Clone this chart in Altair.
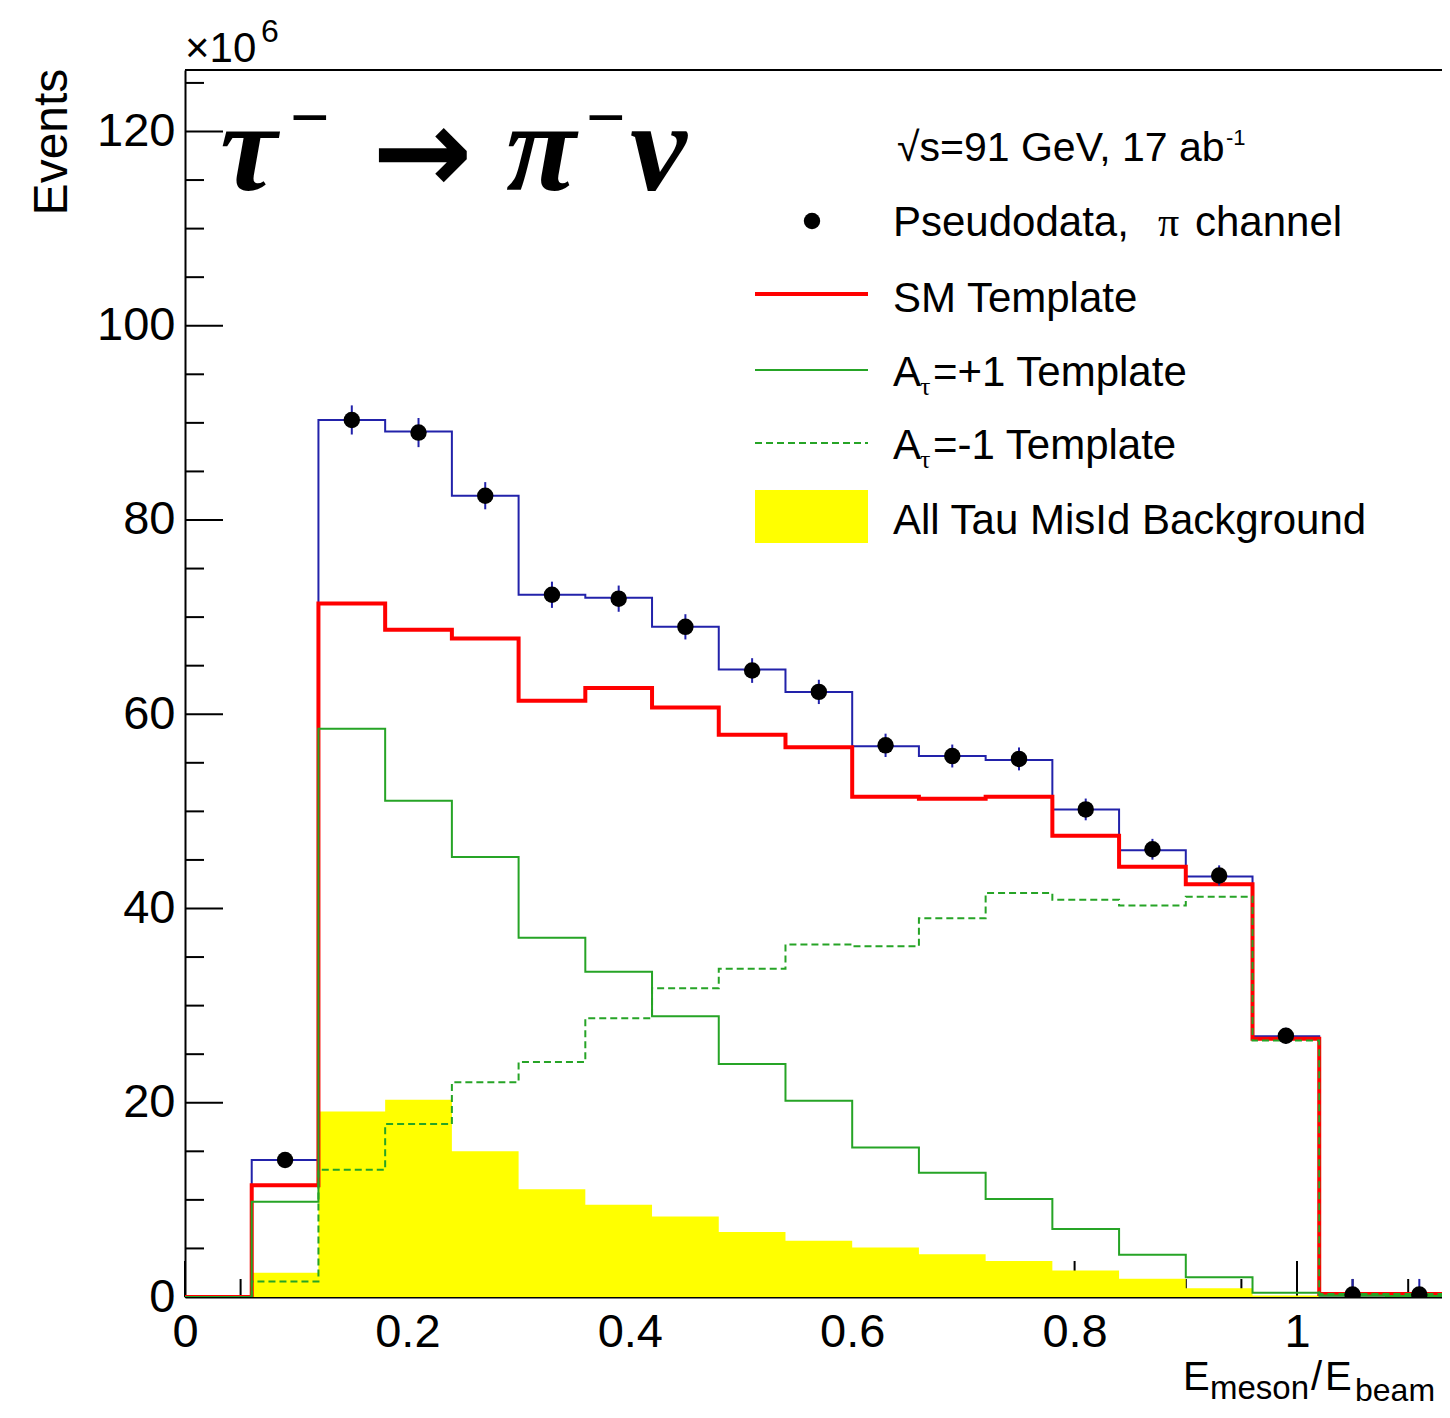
import altair as alt
import pandas as pd

# ---------------- data (units of 1e6 events) ----------------
bin_edges = [0.0, 0.06, 0.12, 0.18, 0.24, 0.30, 0.36, 0.42, 0.48, 0.54, 0.60,
             0.66, 0.72, 0.78, 0.84, 0.90, 0.96, 1.02, 1.08, 1.14]

total_mc     = [0.0, 14.1, 90.3, 89.1, 82.5, 72.3, 72.0, 69.0, 64.6, 62.3, 56.7,
                55.7, 55.3, 50.2, 46.0, 43.3, 26.85, 0.35, 0.35]
sm_template  = [0.0, 11.5, 71.4, 68.7, 67.8, 61.4, 62.7, 60.7, 57.9, 56.6, 51.5,
                51.3, 51.5, 47.5, 44.3, 42.5, 26.6, 0.3, 0.3]
ap1_template = [0.0, 9.8, 58.5, 51.1, 45.3, 37.0, 33.5, 28.9, 24.0, 20.2, 15.4,
                12.8, 10.1, 7.0, 4.35, 2.04, 0.43, 0.15, 0.1]
am1_template = [0.0, 1.6, 13.1, 17.8, 22.1, 24.2, 28.7, 31.8, 33.8, 36.3, 36.1,
                39.0, 41.6, 40.9, 40.3, 41.2, 26.4, 0.3, 0.3]
misid_bkg    = [0.0, 2.5, 19.1, 20.3, 15.0, 11.1, 9.5, 8.3, 6.7, 5.8, 5.1,
                4.4, 3.7, 2.73, 1.87, 0.9, 0.15, 0.0, 0.0]

# pseudodata for bins 1..18
pseudo_vals = [14.1, 90.3, 89.0, 82.5, 72.3, 71.9, 69.0, 64.5, 62.3, 56.8,
               55.7, 55.4, 50.2, 46.1, 43.4, 26.9, 0.26, 0.26]
pseudo_errs = [0.6, 1.5, 1.5, 1.4, 1.35, 1.35, 1.3, 1.27, 1.25, 1.2,
               1.18, 1.18, 1.12, 1.07, 1.04, 0.82, 1.6, 1.6]

x_major = [0, 0.2, 0.4, 0.6, 0.8, 1.0]
x_minor = [0.05, 0.1, 0.15, 0.25, 0.3, 0.35, 0.45, 0.5, 0.55, 0.65, 0.7, 0.75,
           0.85, 0.9, 0.95, 1.05, 1.1]
y_major = [0, 20, 40, 60, 80, 100, 120]
y_minor = [5, 10, 15, 25, 30, 35, 45, 50, 55, 65, 70, 75, 85, 90, 95,
           105, 110, 115, 125]

# ---------------- layout constants ----------------
W, H = 1257, 1227
SANS = "Liberation Sans"
SERIF = "Liberation Serif"
BLUE = "#2222aa"
RED = "#ff0000"
GREEN = "#26a426"
YELLOW = "#ffff00"

xscale = alt.Scale(domain=[0, 1.1304], nice=False, zero=False)
yscale = alt.Scale(domain=[0, 126.33], nice=False, zero=False)
xaxis = alt.Axis(values=x_major, format="~g", tickSize=0, labelFontSize=47,
                 labelPadding=12, labelFlush=False, labelColor="black",
                 labelFont=SANS, domainColor="black", domainWidth=2,
                 grid=False, title=None, labelOverlap=False)
yaxis = alt.Axis(values=y_major, format="d", tickSize=0, labelFontSize=47,
                 labelPadding=10, labelColor="black", labelFont=SANS,
                 domainColor="black", domainWidth=2, grid=False, title=None,
                 labelOverlap=False)


def X(f):
    return alt.X(f, type="quantitative", scale=xscale, axis=xaxis)


def Y(f):
    return alt.Y(f, type="quantitative", scale=yscale, axis=yaxis)


def steps(vals):
    return pd.DataFrame({"x": bin_edges, "y": list(vals) + [vals[-1]]})


dummy = pd.DataFrame({"a": [0]})

layers = []

# tick marks (ROOT style, pointing inward)
layers.append(alt.Chart(pd.DataFrame({"v": y_major})).mark_rule(color="black", strokeWidth=2)
              .encode(y=Y("v"), x=alt.value(0), x2=alt.value(38)))
layers.append(alt.Chart(pd.DataFrame({"v": y_minor})).mark_rule(color="black", strokeWidth=2)
              .encode(y=Y("v"), x=alt.value(0), x2=alt.value(19)))
layers.append(alt.Chart(pd.DataFrame({"v": x_major})).mark_rule(color="black", strokeWidth=2)
              .encode(x=X("v"), y=alt.value(H), y2=alt.value(H - 36)))
layers.append(alt.Chart(pd.DataFrame({"v": x_minor})).mark_rule(color="black", strokeWidth=2)
              .encode(x=X("v"), y=alt.value(H), y2=alt.value(H - 18)))
# top frame line
layers.append(alt.Chart(dummy).mark_rule(color="black", strokeWidth=2)
              .encode(x=alt.value(0), x2=alt.value(W), y=alt.value(0)))

# histograms
layers.append(alt.Chart(steps(misid_bkg)).mark_area(interpolate="step-after", color=YELLOW, clip=True)
              .encode(x=X("x"), y=Y("y")))
layers.append(alt.Chart(steps(total_mc)).mark_line(interpolate="step-after", color=BLUE,
                                                   strokeWidth=2, clip=True)
              .encode(x=X("x"), y=Y("y")))
layers.append(alt.Chart(steps(sm_template)).mark_line(interpolate="step-after", color=RED,
                                                      strokeWidth=4, clip=True)
              .encode(x=X("x"), y=Y("y")))
layers.append(alt.Chart(steps(ap1_template)).mark_line(interpolate="step-after", color=GREEN,
                                                       strokeWidth=2, clip=True)
              .encode(x=X("x"), y=Y("y")))
layers.append(alt.Chart(steps(am1_template)).mark_line(interpolate="step-after", color=GREEN,
                                                       strokeWidth=2, strokeDash=[7, 4], clip=True)
              .encode(x=X("x"), y=Y("y")))

# pseudodata
centers = [(bin_edges[i] + bin_edges[i + 1]) / 2 for i in range(1, 19)]
pdata = pd.DataFrame({"x": centers, "y": pseudo_vals,
                      "lo": [v - e for v, e in zip(pseudo_vals, pseudo_errs)],
                      "hi": [v + e for v, e in zip(pseudo_vals, pseudo_errs)]})
layers.append(alt.Chart(pdata).mark_rule(color=BLUE, strokeWidth=2, clip=True)
              .encode(x=X("x"), y=Y("lo"), y2="hi"))
layers.append(alt.Chart(pdata).mark_point(filled=True, color="black", size=270, opacity=1, clip=True)
              .encode(x=X("x"), y=Y("y")))


def txt(s, x, y, size, font=SANS, bold=False, italic=False, align="left", angle=0, baseline="alphabetic"):
    kw = dict(text=s, font=font, fontSize=size, color="black", align=align,
              baseline=baseline, fontWeight="bold" if bold else "normal",
              fontStyle="italic" if italic else "normal")
    if angle:
        kw["angle"] = angle
    return alt.Chart(dummy).mark_text(**kw).encode(x=alt.value(x), y=alt.value(y))


OX, OY = 185, 70  # page coords of plot origin

# multiplier and axis titles
layers.append(txt("\u00d710", 185 - OX, 62 - OY, 42))
layers.append(txt("6", 261 - OX, 42 - OY, 32))
layers.append(txt("Events", 67 - OX, 142 - OY, 48, align="center", angle=270))
layers.append(txt("E", 1183 - OX, 1390 - OY, 40))
layers.append(txt("meson", 1210 - OX, 1399 - OY, 33))
layers.append(txt("/", 1311 - OX, 1390 - OY, 40))
layers.append(txt("E", 1325 - OX, 1390 - OY, 40))
layers.append(txt("beam", 1355 - OX, 1401 - OY, 32))

# big decay label
layers.append(txt("\u03c4", 220 - OX, 190 - OY, 128, font=SERIF, bold=True, italic=True))
layers.append(txt("\u2212", 290 - OX, 141 - OY, 70, font=SERIF, bold=True))
layers.append(txt("\u2192", 372 - OX, 193 - OY, 120, font="DejaVu Sans", bold=True))
layers.append(txt("\u03c0", 506 - OX, 190 - OY, 128, font=SERIF, bold=True, italic=True))
layers.append(txt("\u2212", 586 - OX, 141 - OY, 70, font=SERIF, bold=True))
layers.append(txt("\u03bd", 630 - OX, 190 - OY, 128, font=SERIF, bold=True, italic=True))

# legend
layers.append(txt("\u221as=91 GeV, 17 ab", 897 - OX, 161 - OY, 41))
layers.append(txt("-1", 1226 - OX, 145 - OY, 22))
layers.append(alt.Chart(dummy).mark_point(filled=True, color="black", size=270, opacity=1)
              .encode(x=alt.value(812 - OX), y=alt.value(221 - OY)))
layers.append(txt("Pseudodata,", 893 - OX, 236 - OY, 42))
layers.append(txt("\u03c0", 1158 - OX, 236 - OY, 42, font=SERIF))
layers.append(txt("channel", 1195 - OX, 236 - OY, 42))
layers.append(alt.Chart(dummy).mark_rule(color=RED, strokeWidth=4)
              .encode(x=alt.value(755 - OX), x2=alt.value(868 - OX), y=alt.value(294 - OY)))
layers.append(txt("SM Template", 893 - OX, 312 - OY, 42))
layers.append(alt.Chart(dummy).mark_rule(color=GREEN, strokeWidth=2)
              .encode(x=alt.value(755 - OX), x2=alt.value(868 - OX), y=alt.value(370 - OY)))
layers.append(txt("A", 893 - OX, 386 - OY, 42))
layers.append(txt("\u03c4", 920 - OX, 395 - OY, 26, font=SERIF))
layers.append(txt("=+1 Template", 933 - OX, 386 - OY, 42))
layers.append(alt.Chart(dummy).mark_rule(color=GREEN, strokeWidth=2, strokeDash=[7, 4])
              .encode(x=alt.value(755 - OX), x2=alt.value(868 - OX), y=alt.value(443 - OY)))
layers.append(txt("A", 893 - OX, 459 - OY, 42))
layers.append(txt("\u03c4", 920 - OX, 468 - OY, 26, font=SERIF))
layers.append(txt("=-1 Template", 933 - OX, 459 - OY, 42))
layers.append(alt.Chart(dummy).mark_rect(color=YELLOW)
              .encode(x=alt.value(755 - OX), x2=alt.value(868 - OX),
                      y=alt.value(490 - OY), y2=alt.value(543 - OY)))
layers.append(txt("All Tau MisId Background", 893 - OX, 534 - OY, 42))

chart = alt.layer(*layers).properties(
    width=W, height=H,
    autosize=alt.AutoSizeParams(type="none"),
    padding={"left": 177, "top": 62, "right": 0, "bottom": 113},
    background="white",
).configure_view(stroke=None)

chart.save("out.html", embed_options={"renderer": "svg", "actions": False})
